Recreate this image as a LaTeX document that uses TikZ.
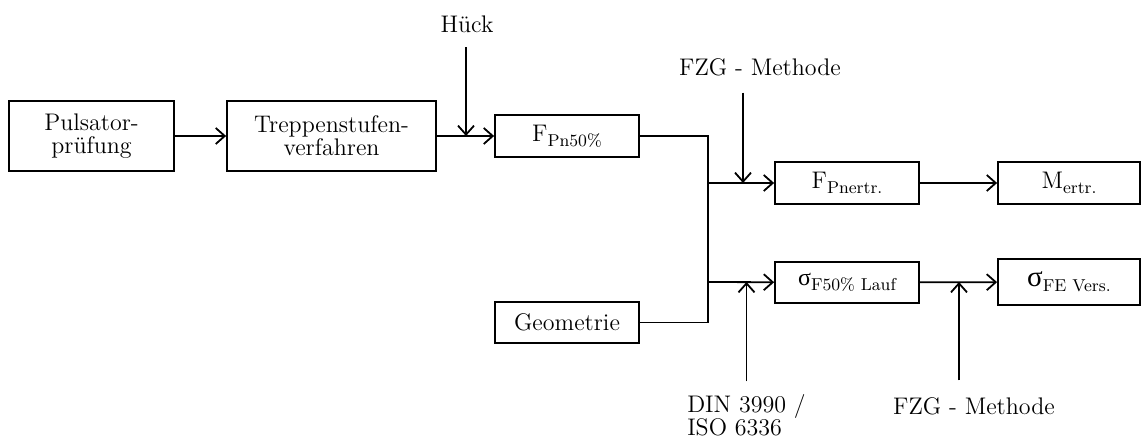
\documentclass[tikz,border=0pt]{standalone}
\usepackage{fontspec}
\newfontfamily\griech{Liberation Serif}
\usetikzlibrary{arrows.meta}
\newcommand{\dolni}[1]{\raisebox{-0.45ex}{\fontsize{8.6}{8.6}\selectfont #1}}

\begin{document}
\begin{tikzpicture}[x=0.5pt, y=-0.5pt, line width=0.9pt,
  every node/.style={font=\fontsize{12}{11.5}\selectfont},
  kasten/.style={draw, inner sep=0pt, align=center},
  popis/.style={inner sep=7pt, align=left},
  sipka/.style={-{Straight Barb[length=4.5pt,width=8pt]}}]
  \useasboundingbox (0,0) rectangle (1141,437);

  % bloky vlevo
  \node[kasten, minimum width=82.5pt, minimum height=35pt] (puls) at (91.5,136) {Pulsator-\\prüfung};
  \node[kasten, minimum width=104.5pt, minimum height=35pt] (trepp) at (331.5,136) {Treppenstufen-\\verfahren};
  \node[kasten, minimum width=72pt, minimum height=21pt] (fpn) at (567,136) {F\dolni{Pn50\%}};
  \node[kasten, minimum width=72pt, minimum height=20.5pt] (geo) at (567,322.5) {Geometrie};

  % bloky vpravo
  \node[kasten, minimum width=72pt, minimum height=21pt] (fpnertr) at (847,183) {F\dolni{Pnertr.}};
  \node[kasten, minimum width=71pt, minimum height=21pt] (mertr) at (1069,183) {M\dolni{ertr.}};
  \node[kasten, minimum width=72pt, minimum height=20.5pt] (sigf) at (847,282.5) {{\griech σ}\dolni{F50\% Lauf}};
  \node[kasten, minimum width=71pt, minimum height=23pt] (sigfe) at (1069,282) {{\griech\fontsize{14.5}{14}\selectfont σ}\dolni{FE Vers.}};

  % popisky
  \node[popis] (hueck) at (467,24) {Hück};
  \node[popis, inner sep=8pt] (fzga) at (760,67) {FZG - Methode};
  \node[popis, inner sep=6pt] (din) at (746.5,415) {DIN 3990 /\\ISO 6336};
  \node[popis, inner sep=8pt] (fzgb) at (974,406) {FZG - Methode};

  % uzly
  \coordinate (h) at (466,136);
  \coordinate (a1) at (708,183);
  \coordinate (a2) at (708,282);
  \coordinate (b1) at (743,183);
  \coordinate (b2) at (746.5,282);
  \coordinate (b3) at (959,282);

  % spoje
  \draw[sipka] (puls) -- (trepp);
  \draw[sipka] (trepp) -- (fpn);
  \draw[sipka] (hueck.south -| h) -- (h);
  \draw (fpn) -| (a1) -- (a2) |- (geo);
  \draw[sipka] (a1) -- (fpnertr);
  \draw[sipka] (a2) -- (sigf);
  \draw[sipka] (fzga.south -| b1) -- (b1);
  \draw[sipka] (din) -- (b2);
  \draw[sipka] (fpnertr) -- (mertr);
  \draw[sipka] (sigf) -- (sigfe);
  \draw[sipka] (fzgb.north -| b3) -- (b3);
\end{tikzpicture}
\end{document}
